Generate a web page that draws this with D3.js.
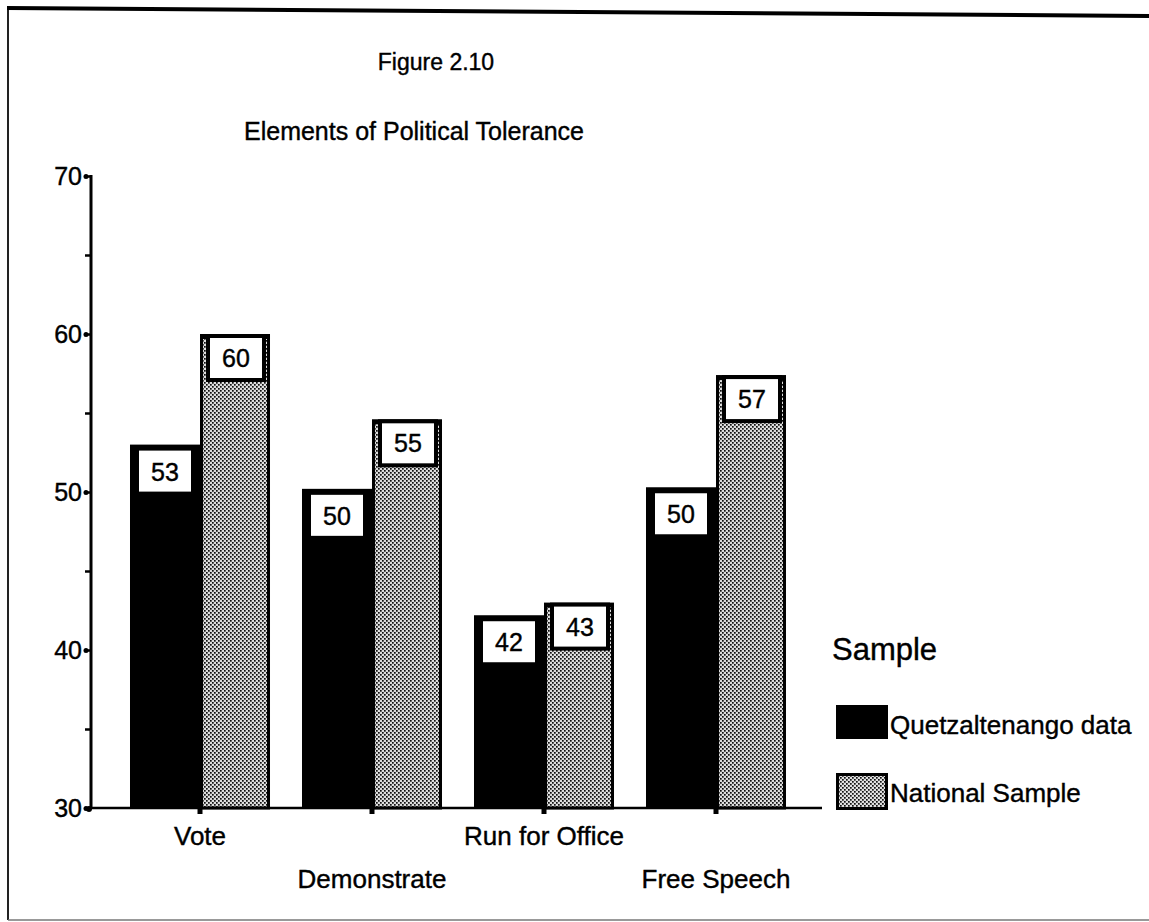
<!DOCTYPE html>
<html><head><meta charset="utf-8">
<script src="https://cdn.jsdelivr.net/npm/d3@7"></script>
<style>html,body{margin:0;padding:0;background:#fff;} svg{display:block;font-family:"Liberation Sans",Arial,Helvetica,sans-serif;} text{stroke:#000;stroke-width:0.4px;}</style>
</head><body><svg id="c" width="1149" height="922"></svg>
<script>
const categories = ["Vote", "Demonstrate", "Run for Office", "Free Speech"];
const seriesNames = ["Quetzaltenango data", "National Sample"];
const quetzaltenango = [53, 50.2, 42.2, 50.3];
const national = [60, 54.6, 43, 57.4];
const yTickValues = [30, 35, 40, 45, 50, 55, 60, 65, 70];
const yTickLabels = [30, 40, 50, 60, 70];
const figureLabel = "Figure 2.10";
const chartTitle = "Elements of Political Tolerance";
const legendTitle = "Sample";

const svg = d3.select("#c");
const defs = svg.append("defs");
const pat = defs.append("pattern").attr("id", "stipple")
  .attr("width", 4).attr("height", 4).attr("patternUnits", "userSpaceOnUse");
pat.append("rect").attr("width", 4).attr("height", 4).attr("fill", "#dedede");
pat.append("rect").attr("x", 0).attr("y", 0).attr("width", 1.7).attr("height", 1.7).attr("fill", "#111");
pat.append("rect").attr("x", 2).attr("y", 2).attr("width", 1.7).attr("height", 1.7).attr("fill", "#111");

// frame
svg.append("line").attr("x1", 8).attr("y1", 8).attr("x2", 8).attr("y2", 920).attr("stroke", "#222").attr("stroke-width", 2);
svg.append("line").attr("x1", 8).attr("y1", 920).attr("x2", 1149).attr("y2", 920).attr("stroke", "#777").attr("stroke-width", 1.5);
svg.append("line").attr("x1", 7).attr("y1", 8).attr("x2", 1149).attr("y2", 16).attr("stroke", "#000").attr("stroke-width", 4);

const data = categories.map((c, i) => ({ cat: c, vals: [quetzaltenango[i], national[i]] }));

const y = d3.scaleLinear().domain([30, 70]).range([808, 176]);
const x = d3.scaleBand().domain(categories).range([114, 802]).paddingInner(0.186).paddingOuter(0.093);
const xs = d3.scaleBand().domain(seriesNames).range([0, x.bandwidth()]);
const fills = ["#000", "url(#stipple)"];
const fmt = d3.format(".0f");

// titles
svg.append("text").attr("x", 436).attr("y", 70).attr("text-anchor", "middle").attr("font-size", 23).text(figureLabel);
svg.append("text").attr("x", 414).attr("y", 140).attr("text-anchor", "middle").attr("font-size", 25).text(chartTitle);

// bars
const g = svg.append("g");
const groups = g.selectAll("g.grp").data(data).join("g").attr("class", "grp")
  .attr("transform", d => `translate(${x(d.cat)},0)`);
groups.each(function (d) {
  const gg = d3.select(this);
  d.vals.forEach((v, si) => {
    const bx = xs(seriesNames[si]);
    const bw = xs.bandwidth();
    const top = y(v);
    if (si === 0) {
      gg.append("rect").attr("x", bx).attr("y", top).attr("width", bw).attr("height", y(30) - top).attr("fill", "#000");
      gg.append("rect").attr("x", bx + 9).attr("y", top + 6).attr("width", bw - 18).attr("height", 41).attr("fill", "#fff");
      gg.append("text").attr("x", bx + bw / 2).attr("y", top + 36).attr("text-anchor", "middle").attr("font-size", 25).text(fmt(v));
    } else {
      gg.append("rect").attr("x", bx + 1.5).attr("y", top + 2).attr("width", bw - 3).attr("height", y(30) - top - 2)
        .attr("fill", fills[1]).attr("stroke", "#000").attr("stroke-width", 3);
      gg.append("rect").attr("x", bx).attr("y", top).attr("width", bw).attr("height", 5).attr("fill", "#000");
      gg.append("rect").attr("x", bx + 8).attr("y", top + 2).attr("width", bw - 14).attr("height", 44)
        .attr("fill", "#fff").attr("stroke", "#000").attr("stroke-width", 4);
      gg.append("text").attr("x", bx + bw / 2 + 1).attr("y", top + 33).attr("text-anchor", "middle").attr("font-size", 25).text(fmt(v));
    }
  });
});

// y axis
const yAxis = d3.axisLeft(y).tickValues(yTickValues).tickSize(6)
  .tickFormat(d => yTickLabels.includes(d) ? d : "");
const ya = svg.append("g").attr("transform", "translate(91,0)").call(yAxis);
ya.select(".domain").remove();
ya.selectAll(".tick line").attr("stroke", "#000").attr("stroke-width", 2.5);
ya.selectAll(".tick text").attr("font-size", 25).attr("fill", "#000").attr("x", -9)
  .attr("font-family", '"Liberation Sans",Arial,sans-serif');
ya.selectAll(".tick").filter(d => yTickLabels.includes(d)).append("circle").attr("cx", -5).attr("r", 2.5).attr("fill", "#000");
svg.append("line").attr("x1", 91).attr("y1", y(70) - 1).attr("x2", 91).attr("y2", y(30) + 1).attr("stroke", "#000").attr("stroke-width", 3);

// x axis
const xAxis = d3.axisBottom(x).tickSize(6).tickFormat("");
const xa = svg.append("g").attr("transform", `translate(0,${y(30)})`).call(xAxis);
xa.select(".domain").remove();
xa.selectAll(".tick line").attr("stroke", "#000").attr("stroke-width", 5);
svg.append("line").attr("x1", 88).attr("y1", y(30)).attr("x2", 822).attr("y2", y(30)).attr("stroke", "#000").attr("stroke-width", 2.5);
svg.append("circle").attr("cx", 89).attr("cy", y(30) + 1).attr("r", 3).attr("fill", "#000");

svg.append("g").selectAll("text").data(categories).join("text")
  .attr("x", d => x(d) + x.bandwidth() / 2)
  .attr("y", (d, i) => i % 2 === 0 ? 845 : 888)
  .attr("text-anchor", "middle").attr("font-size", 26).text(d => d);

// legend
svg.append("text").attr("x", 832).attr("y", 660).attr("font-size", 31).text(legendTitle);
const leg = svg.append("g").selectAll("g").data(seriesNames).join("g")
  .attr("transform", (d, i) => `translate(836,${i === 0 ? 705 : 773})`);
leg.append("rect").attr("x", (d, i) => i ? 1.5 : 0).attr("y", (d, i) => i ? 1.5 : 0)
  .attr("width", (d, i) => i ? 49 : 52).attr("height", 34)
  .attr("fill", (d, i) => fills[i]).attr("stroke", (d, i) => i ? "#000" : "none").attr("stroke-width", 3);
leg.append("text").attr("x", 54).attr("y", 29).attr("font-size", 26).text(d => d);
</script></body></html>
